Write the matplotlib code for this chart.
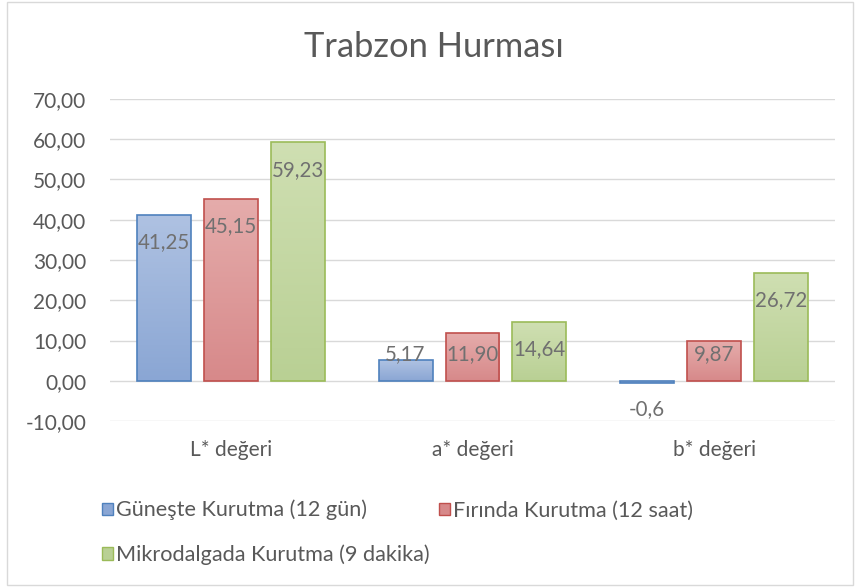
import numpy as np
import matplotlib.pyplot as plt
from matplotlib.patches import Patch, Rectangle
from matplotlib.colors import LinearSegmentedColormap

plt.rcParams['font.family'] = ['Lato', 'DejaVu Sans']

categories = ["L* değeri", "a* değeri", "b* değeri"]
series_names = ["Güneşte Kurutma (12 gün)", "Fırında Kurutma (12 saat)",
                "Mikrodalgada Kurutma (9 dakika)"]
gunes = [41.25, 5.17, -0.6]
firin = [45.15, 11.90, 9.87]
mikro = [59.23, 14.64, 26.72]
gunes_labels = ["41,25", "5,17", "-0,6"]
firin_labels = ["45,15", "11,90", "9,87"]
mikro_labels = ["59,23", "14,64", "26,72"]
yticks = [-10, 0, 10, 20, 30, 40, 50, 60, 70]

# (top, bottom, edge)
colors = [("#AFC2E2", "#8AA6D4", "#4F81BD"),
          ("#E5ACAB", "#D7898A", "#C0504D"),
          ("#CFDFB2", "#B9D094", "#9BBB59")]

text_col = "#595959"

fig = plt.figure(figsize=(8.55, 5.87), dpi=100)
ax = fig.add_axes([110/855, 1-421/587, 725/855, 322/587])

x = np.arange(len(categories))
w = 0.223
step = 0.277
grad = np.linspace(0, 1, 200).reshape(-1, 1)

all_series = [(gunes, gunes_labels), (firin, firin_labels), (mikro, mikro_labels)]
for i, ((vals, labs), (top, bot, edge)) in enumerate(zip(all_series, colors)):
    bars = ax.bar(x + (i - 1) * step, vals, w, facecolor='none',
                  edgecolor=edge, linewidth=1.2, zorder=3)
    cmap = LinearSegmentedColormap.from_list("g%d" % i, [bot, top])
    for b, v, lab in zip(bars, vals, labs):
        x0 = b.get_x()
        y0, y1 = sorted([b.get_y(), b.get_y() + b.get_height()])
        im = ax.imshow(grad, cmap=cmap, extent=[x0, x0 + w, y0, y1],
                       origin='lower', aspect='auto', zorder=2)
        im.set_clip_path(b)
        if v >= 0:
            ly = max(v - 6.8, 6.5)
        else:
            ly = v - 6.4
        ax.text(b.get_x() + w / 2, ly, lab, ha='center', va='center',
                fontsize=14.8, color="#707070", zorder=4)

ax.set_xlim(-0.5, 2.5)
ax.set_ylim(-10, 70)
ax.set_yticks(yticks)
ax.set_yticklabels([("%.2f" % t).replace(".", ",") for t in yticks])
ax.set_xticks(x)
ax.set_xticklabels(categories)
ax.tick_params(axis='both', length=0, labelsize=15, labelcolor=text_col)
ax.tick_params(axis='y', pad=17)
ax.tick_params(axis='x', pad=14)
ax.grid(axis='y', color='#D9D9D9', linewidth=1, zorder=0)
ax.set_axisbelow(True)
for s in ax.spines.values():
    s.set_visible(False)

fig.text(434/855, 1 - 47/587, "Trabzon Hurması", ha='center', va='center',
         fontsize=24.8, color=text_col)

handles = [Patch(facecolor=c[1], edgecolor=c[2]) for c in colors]
order = [0, 2, 1]
fig.legend([handles[k] for k in order], [series_names[k] for k in order],
           ncol=2, loc='upper left', bbox_to_anchor=(91/855, 1 - 489/587),
           frameon=False, fontsize=15.6, labelcolor=text_col,
           handlelength=0.5, handleheight=0.5, handletextpad=0.15,
           columnspacing=0.45, labelspacing=1.12, borderpad=0)

fig.patches.append(Rectangle((7/855, 2/587), 846/855, 583/587,
                             transform=fig.transFigure, fill=False,
                             edgecolor='#D9D9D9', linewidth=1))

fig.savefig("out.png", dpi=100)
